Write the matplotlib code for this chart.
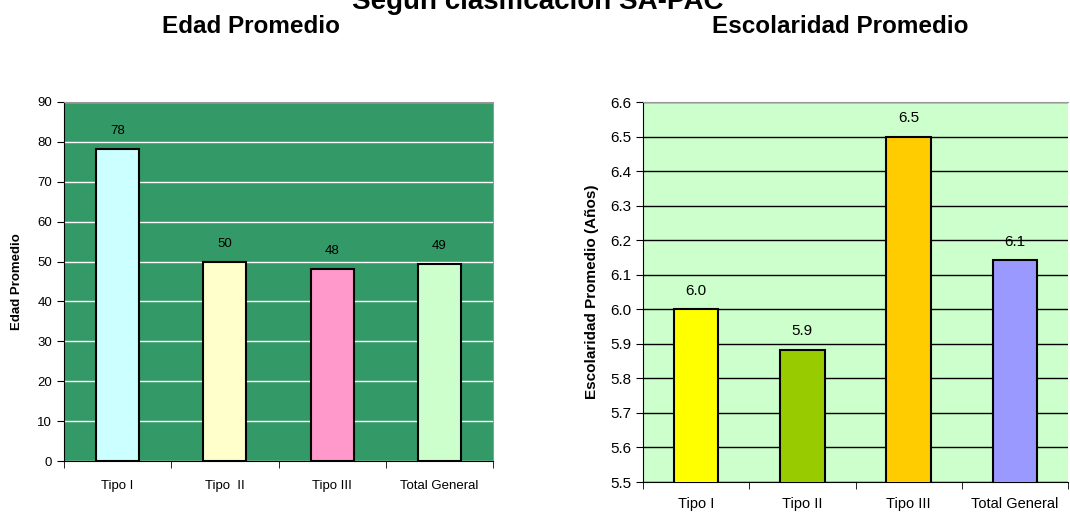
import numpy as np
import matplotlib.pyplot as plt

plt.rcParams["font.family"] = ["Liberation Sans", "DejaVu Sans"]

# data
categorias_edad = ["Tipo I", "Tipo  II", "Tipo III", "Total General"]
edad_promedio = [78.2, 50.0, 48.1, 49.3]
etiquetas_edad = ["78", "50", "48", "49"]
colores_edad = ["#CCFFFF", "#FFFFCC", "#FF99CC", "#CCFFCC"]

categorias_esc = ["Tipo I", "Tipo II", "Tipo III", "Total General"]
escolaridad_promedio = [6.0, 5.883, 6.5, 6.143]
etiquetas_esc = ["6.0", "5.9", "6.5", "6.1"]
colores_esc = ["#FFFF00", "#99CC00", "#FFCC00", "#9999FF"]

W, H = 1070, 512
fig = plt.figure(figsize=(W / 100, H / 100), dpi=100)


def box(l, t, r, b):
    return [l / W, 1 - b / H, (r - l) / W, (b - t) / H]


fig.text(538 / W, 1 - 9 / H, "Según clasificación SA-PAC", ha="center", va="baseline",
         fontsize=20, fontweight="bold")
fig.text(251 / W, 1 - 33 / H, "Edad Promedio", ha="center", va="baseline",
         fontsize=17.5, fontweight="bold")
fig.text(840 / W, 1 - 33 / H, "Escolaridad Promedio", ha="center", va="baseline",
         fontsize=17.5, fontweight="bold")

# ---------------- left: edad ----------------
ax1 = fig.add_axes(box(64, 102, 493, 461))
x = np.arange(len(categorias_edad))
ax1.set_facecolor("#339966")
ax1.bar(x, edad_promedio, width=0.4, color=colores_edad, edgecolor="black",
        linewidth=1.5, zorder=3)
ax1.set_xlim(-0.5, len(x) - 0.5)
ax1.set_ylim(0, 90)
ax1.set_yticks(np.arange(0, 91, 10))
ax1.yaxis.grid(True, color="white", linewidth=1, zorder=1)
ax1.set_xticks(x)
ax1.set_xticklabels(categorias_edad, fontsize=9.5)
ax1.set_xticks(np.arange(-0.5, len(x), 1), minor=True)
ax1.tick_params(axis="x", which="major", length=0, pad=14)
ax1.tick_params(axis="x", which="minor", length=5)
ax1.tick_params(axis="y", labelsize=9.5, length=5)
for v, s, xi in zip(edad_promedio, etiquetas_edad, x):
    ax1.text(xi, v + 4.5, s, ha="center", va="center", fontsize=9.5, zorder=4)
ax1.set_ylabel("Edad Promedio", fontsize=9.5, fontweight="bold", labelpad=10)
for sp in ["top", "right"]:
    ax1.spines[sp].set_color("#999999")

# ---------------- right: escolaridad ----------------
ax2 = fig.add_axes(box(643, 102, 1068, 482))
x = np.arange(len(categorias_esc))
ax2.set_facecolor("#CCFFCC")
ax2.bar(x, escolaridad_promedio, width=0.42, color=colores_esc, edgecolor="black",
        linewidth=1.5, zorder=3)
ax2.set_xlim(-0.5, len(x) - 0.5)
ax2.set_ylim(5.5, 6.6)
ax2.set_yticks(np.round(np.arange(5.5, 6.61, 0.1), 1))
ax2.yaxis.set_major_formatter(plt.FormatStrFormatter("%.1f"))
ax2.yaxis.grid(True, color="black", linewidth=1, zorder=1)
ax2.set_xticks(x)
ax2.set_xticklabels(categorias_esc, fontsize=10.5)
ax2.set_xticks(np.arange(-0.5, len(x), 1), minor=True)
ax2.tick_params(axis="x", which="major", length=0, pad=11)
ax2.tick_params(axis="x", which="minor", length=5)
ax2.tick_params(axis="y", labelsize=11, length=5)
for v, s, xi in zip(escolaridad_promedio, etiquetas_esc, x):
    ax2.text(xi, v + 0.053, s, ha="center", va="center", fontsize=11, zorder=4)
ax2.set_ylabel("Escolaridad Promedio (Años)", fontsize=11, fontweight="bold", labelpad=8)
ax2.spines["top"].set_color("#999999")
ax2.spines["right"].set_visible(False)

fig.savefig("out.png", dpi=100)
